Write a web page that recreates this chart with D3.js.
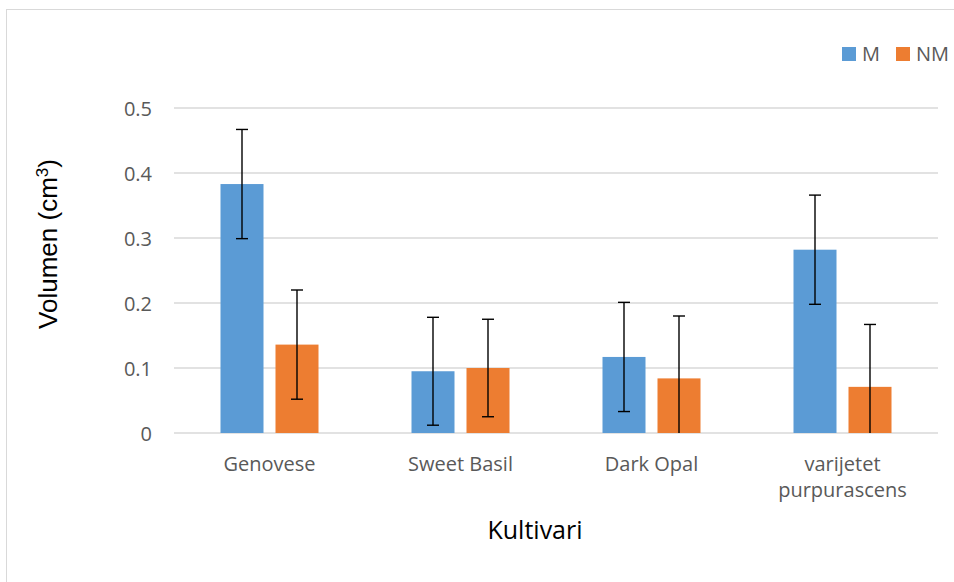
<!DOCTYPE html>
<html><head><meta charset="utf-8">
<script src="https://cdn.jsdelivr.net/npm/d3@7"></script>
<style>body{margin:0;background:#fff;} svg{display:block;} svg text{font-family:"Open Sans","Liberation Sans",sans-serif;}</style>
</head><body><svg id="c" width="954" height="582"></svg>
<script>
const categories = [["Genovese"], ["Sweet Basil"], ["Dark Opal"], ["varijetet", "purpurascens"]];
const seriesNames = ["M", "NM"];
const seriesColors = ["#5B9BD5", "#ED7D31"];
const valuesM = [0.383, 0.095, 0.117, 0.282];
const valuesNM = [0.136, 0.100, 0.084, 0.071];
const errM = [0.084, 0.083, 0.084, 0.084];
const errNM = [0.084, 0.075, 0.096, 0.096];
const yTicks = [0, 0.1, 0.2, 0.3, 0.4, 0.5];

(function () {
const svg = d3.select("#c");
svg.append("rect").attr("x", 6.5).attr("y", 9.5).attr("width", 960).attr("height", 600)
  .attr("fill", "#fff").attr("stroke", "#D9D9D9").attr("stroke-width", 1);

const pLeft = 174, pRight = 938, pTop = 108, pBottom = 433;
const x = d3.scaleBand().domain(d3.range(categories.length)).range([pLeft, pRight]).padding(0);
const y = d3.scaleLinear().domain([0, 0.5]).range([pBottom, pTop]);

svg.append("g").selectAll("line").data(yTicks).join("line")
  .attr("x1", pLeft).attr("x2", pRight)
  .attr("y1", d => y(d)).attr("y2", d => y(d))
  .attr("stroke", "#D9D9D9").attr("stroke-width", 1.3);

const yAxis = d3.axisLeft(y).tickValues(yTicks).tickSize(0).tickPadding(22).tickFormat(d => d === 0 ? "0" : d3.format(".1f")(d));
const gy = svg.append("g").attr("transform", `translate(${pLeft},0)`).call(yAxis);
gy.attr("font-family", null).attr("font-size", null);
gy.select(".domain").remove();
gy.selectAll("text").attr("fill", "#595959").style("font-size", "20px").attr("dy", "0.35em");

const barW = 43, offset = 27.5;
const series = [valuesM, valuesNM];
const errs = [errM, errNM];
series.forEach((vals, s) => {
  const g = svg.append("g");
  const cx = i => x(i) + x.bandwidth() / 2 + (s === 0 ? -offset : offset);
  g.selectAll("rect").data(vals).join("rect")
    .attr("x", (d, i) => cx(i) - barW / 2).attr("width", barW)
    .attr("y", d => y(d)).attr("height", d => y(0) - y(d))
    .attr("fill", seriesColors[s]);
  vals.forEach((v, i) => {
    const hi = v + errs[s][i], lo = Math.max(0, v - errs[s][i]);
    const c = cx(i);
    g.append("line").attr("x1", c).attr("x2", c).attr("y1", y(hi)).attr("y2", y(lo))
      .attr("stroke", "#000").attr("stroke-width", 1.4);
    g.append("line").attr("x1", c - 6).attr("x2", c + 6).attr("y1", y(hi)).attr("y2", y(hi))
      .attr("stroke", "#000").attr("stroke-width", 1.4);
    if (v - errs[s][i] > 0) {
      g.append("line").attr("x1", c - 6).attr("x2", c + 6).attr("y1", y(lo)).attr("y2", y(lo))
        .attr("stroke", "#000").attr("stroke-width", 1.4);
    }
  });
});

const gx = svg.append("g");
categories.forEach((lines, i) => {
  const t = gx.append("text").attr("x", x(i) + x.bandwidth() / 2).attr("y", 471)
    .attr("text-anchor", "middle").attr("fill", "#595959").style("font-size", "20px");
  lines.forEach((ln, k) => t.append("tspan").attr("x", x(i) + x.bandwidth() / 2).attr("dy", k === 0 ? 0 : 26).text(ln));
});

svg.append("text").attr("x", 535).attr("y", 539).attr("text-anchor", "middle")
  .style("font-size", "25px").attr("fill", "#000").text("Kultivari");
const yt = svg.append("text").attr("transform", "translate(57,244) rotate(-90)").attr("text-anchor", "middle")
  .style("font-size", "26px").style("font-family", "'Liberation Sans', Arial, sans-serif").attr("fill", "#000");
yt.append("tspan").text("Volumen (cm");
yt.append("tspan").attr("dy", -9).style("font-size", "17px").text("3");
yt.append("tspan").attr("dy", 9).text(")");

const legX = [842, 896];
seriesNames.forEach((n, s) => {
  svg.append("rect").attr("x", legX[s]).attr("y", 47).attr("width", 14).attr("height", 14).attr("fill", seriesColors[s]);
  svg.append("text").attr("x", legX[s] + 20).attr("y", 61).style("font-size", "20px").attr("fill", "#595959").text(n);
});
})();
</script></body></html>
